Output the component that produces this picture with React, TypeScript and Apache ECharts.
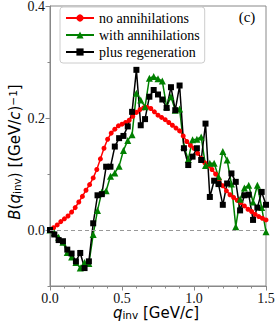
import React, { useEffect, useRef } from "react";
import * as echarts from "echarts";

// q_inv [GeV/c] for the "no annihilations" curve
const qRed = [
  0, 0.025, 0.05, 0.075, 0.1, 0.125, 0.15, 0.175, 0.2, 0.225, 0.25, 0.275, 0.3, 0.325, 0.35, 0.375,
  0.4, 0.425, 0.45, 0.475, 0.5, 0.525, 0.55, 0.575, 0.6, 0.625, 0.65, 0.675, 0.7, 0.725, 0.75,
  0.775, 0.8, 0.825, 0.85, 0.875, 0.9, 0.925, 0.95, 0.975, 1.0, 1.025, 1.05, 1.075, 1.1, 1.125,
  1.15, 1.175, 1.2, 1.225, 1.25, 1.275, 1.3, 1.325, 1.35, 1.375, 1.4, 1.425, 1.45, 1.475, 1.5,
];
const noAnnihilations = [
  0, 0.004, 0.009, 0.015, 0.02, 0.025, 0.032, 0.04, 0.05, 0.06, 0.071, 0.081, 0.093, 0.108, 0.127,
  0.146, 0.162, 0.173, 0.18, 0.186, 0.189, 0.192, 0.196, 0.203, 0.21, 0.215, 0.218, 0.219, 0.217,
  0.211, 0.205, 0.201, 0.197, 0.192, 0.187, 0.182, 0.177, 0.168, 0.158, 0.151, 0.146, 0.137, 0.128,
  0.12, 0.114, 0.108, 0.1, 0.09, 0.079, 0.07, 0.063, 0.058, 0.053, 0.049, 0.043, 0.037, 0.033,
  0.028, 0.024, 0.021, 0.018,
];

// q_inv [GeV/c] for the other two curves
const qBins = [
  0, 0.03, 0.06, 0.09, 0.12, 0.15, 0.18, 0.21, 0.24, 0.27, 0.3, 0.33, 0.36, 0.39, 0.42, 0.45, 0.48,
  0.51, 0.54, 0.57, 0.6, 0.63, 0.66, 0.69, 0.72, 0.75, 0.78, 0.81, 0.84, 0.87, 0.9, 0.93, 0.96,
  0.99, 1.02, 1.05, 1.08, 1.11, 1.14, 1.17, 1.2, 1.23, 1.26, 1.29, 1.32, 1.35, 1.38, 1.41, 1.44,
  1.47, 1.5,
];
const withAnnihilations = [
  0, -0.005, -0.013, -0.022, -0.04, -0.048, -0.058, -0.068, -0.058, -0.06, -0.008, 0.035, 0.068,
  0.07, 0.096, 0.102, 0.114, 0.142, 0.16, 0.17, 0.244, 0.232, 0.22, 0.271, 0.274, 0.27, 0.266, 0.22,
  0.238, 0.214, 0.216, 0.149, 0.126, 0.161, 0.162, 0.166, 0.115, 0.119, 0.119, 0.095, 0.14, 0.125,
  0.082, 0.006, 0.055, 0.075, 0.08, 0.05, 0.08, 0.04, -0.003,
];
const plusRegeneration = [
  0, -0.008, -0.018, -0.02, -0.035, -0.042, -0.056, -0.041, -0.068, -0.056, 0.012, 0.062, 0.064,
  0.113, 0.113, 0.149, 0.164, 0.168, 0.185, 0.211, 0.286, 0.187, 0.198, 0.238, 0.25, 0.242, 0.233,
  0.218, 0.255, 0.214, 0.258, 0.146, 0.116, 0.131, 0.146, 0.125, 0.19, 0.059, 0.088, 0.082, 0.045,
  0.083, 0.101, 0.086, 0.035, 0.062, 0.063, 0.018, 0.04, 0.068, 0.045,
];

const seriesNames = ["no annihilations", "with annihilations", "plus regeneration"];
const yMajorTicks = [0, 0.2, 0.4];

const zip = (xs: number[], ys: number[]) => xs.map((x, i) => [x, ys[i]]);

export default function App() {
  const ref = useRef<HTMLDivElement>(null);
  useEffect(() => {
    if (!ref.current) return;
    const chart = echarts.init(ref.current, undefined, { renderer: "svg" });
    const frame = "#888";
    const serif = "Liberation Serif";
    const sansRich = {
      n: { fontFamily: "DejaVu Sans", fontSize: 15, lineHeight: 15, color: "#000" },
      i: { fontFamily: "DejaVu Sans", fontSize: 15, lineHeight: 15, fontStyle: "italic", color: "#000" },
      s: { fontFamily: "DejaVu Sans", fontSize: 10.5, lineHeight: 8, verticalAlign: "bottom", color: "#000" },
      p: { fontFamily: "DejaVu Sans", fontSize: 10.5, lineHeight: 8, verticalAlign: "top", color: "#000" },
    };
    const option: any = {
      animation: false,
      backgroundColor: "#fff",
      grid: {
        left: 50,
        right: 11,
        top: 6,
        bottom: 37,
        show: true,
        borderColor: frame,
        borderWidth: 1,
        backgroundColor: "transparent",
        containLabel: false,
        outerBoundsMode: "none",
      },
      xAxis: {
        type: "value",
        min: 0,
        max: 1.5,
        interval: 0.5,
        axisLine: { show: true, onZero: false, lineStyle: { color: frame } },
        axisTick: { show: true, length: 4.5, lineStyle: { color: frame } },
        minorTick: { show: true, splitNumber: 5, length: 2.5, lineStyle: { color: frame } },
        splitLine: { show: false },
        minorSplitLine: { show: false },
        axisLabel: {
          formatter: (v: number) => v.toFixed(1),
          fontFamily: serif,
          fontSize: 14,
          lineHeight: 14,
          color: "#111",
          margin: 5,
          showMinLabel: true,
          showMaxLabel: true,
        },
      },
      yAxis: [
        {
          type: "value",
          min: -0.1,
          max: 0.4,
          interval: 0.1,
          position: "left",
          axisLine: { show: true, onZero: false, lineStyle: { color: frame } },
          axisTick: { show: true, length: 4.5, customValues: yMajorTicks, lineStyle: { color: frame } },
          splitLine: { show: false },
          axisLabel: {
            formatter: (v: number) => (Math.abs(Math.round(v * 10)) % 2 === 0 ? v.toFixed(1) : ""),
            fontFamily: serif,
            fontSize: 14,
            color: "#111",
            margin: 5,
          },
        },
        {
          type: "value",
          min: -0.1,
          max: 0.4,
          interval: 0.1,
          position: "left",
          axisLine: { show: false, onZero: false },
          axisTick: { show: true, length: 2.5, lineStyle: { color: frame } },
          splitLine: { show: false },
          axisLabel: { show: false },
        },
      ],
      legend: {
        orient: "vertical",
        left: 60,
        top: 7,
        itemWidth: 28,
        itemHeight: 9,
        itemGap: 3,
        padding: [4, 5, 4, 5],
        borderColor: "#ccc",
        borderWidth: 1,
        borderRadius: 3,
        backgroundColor: "rgba(255,255,255,0.85)",
        textStyle: { fontFamily: serif, fontSize: 14, color: "#000" },
        data: seriesNames,
      },
      series: [
        {
          name: seriesNames[0],
          type: "line",
          data: zip(qRed, noAnnihilations),
          symbol: "circle",
          symbolSize: 5,
          color: "#ff0000",
          lineStyle: { width: 1.5, color: "#ff0000" },
          itemStyle: { color: "#ff0000" },
          markLine: {
            silent: true,
            symbol: ["none", "none"],
            label: { show: false },
            lineStyle: { color: "#999", type: [4, 3], width: 1 },
            data: [{ yAxis: 0 }],
          },
        },
        {
          name: seriesNames[1],
          type: "line",
          data: zip(qBins, withAnnihilations),
          symbol: "triangle",
          symbolSize: 7,
          color: "#008000",
          lineStyle: { width: 1.5, color: "#008000" },
          itemStyle: { color: "#008000" },
        },
        {
          name: seriesNames[2],
          type: "line",
          data: zip(qBins, plusRegeneration),
          symbol: "rect",
          symbolSize: 6,
          color: "#000",
          lineStyle: { width: 1.5, color: "#000" },
          itemStyle: { color: "#000" },
        },
      ],
      graphic: [
        {
          type: "text",
          x: 247,
          y: 17,
          style: { text: "(c)", fontFamily: serif, fontSize: 15, fill: "#000", align: "center", verticalAlign: "middle" },
        },
        {
          type: "text",
          x: 156,
          y: 313,
          style: {
            text: "{i|q}{s|inv}{n| [GeV/}{i|c}{n|]}",
            rich: sansRich,
            align: "center",
            verticalAlign: "middle",
          },
        },
        {
          type: "text",
          x: 15,
          y: 152,
          rotation: Math.PI / 2,
          style: {
            text: "{i|B}{n|(}{i|q}{s|inv}{n|) [(GeV/}{i|c}{n|)}{p|−1}{n|]}",
            rich: sansRich,
            align: "center",
            verticalAlign: "middle",
          },
        },
      ],
    };
    chart.setOption(option);
    return () => chart.dispose();
  }, []);
  return <div ref={ref} style={{ position: "fixed", left: 0, top: 0, width: 277, height: 323 }} />;
}
